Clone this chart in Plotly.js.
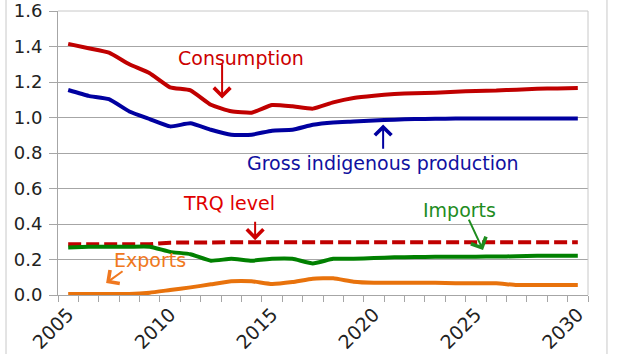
<!DOCTYPE html>
<html>
<head>
<meta charset="utf-8">
<script src="https://cdn.plot.ly/plotly-3.0.1.min.js"></script>
<style>html,body{margin:0;padding:0;background:#fff;}#chart{width:629px;height:354px;}</style>
</head>
<body>
<div id="chart"></div>
<script>
const years = [2005,2006,2007,2008,2009,2010,2011,2012,2013,2014,2015,2016,2017,2018,2019,2020,2021,2022,2023,2024,2025,2026,2027,2028,2029,2030];
const consumption = [1.415,1.39,1.365,1.30,1.25,1.17,1.153,1.072,1.035,1.027,1.07,1.063,1.05,1.085,1.11,1.123,1.132,1.137,1.14,1.145,1.15,1.152,1.157,1.162,1.164,1.166];
const production = [1.155,1.122,1.103,1.034,0.991,0.95,0.967,0.931,0.903,0.903,0.926,0.931,0.959,0.972,0.977,0.983,0.988,0.991,0.993,0.994,0.994,0.995,0.995,0.995,0.995,0.995];
const imports = [0.268,0.272,0.272,0.272,0.272,0.243,0.23,0.193,0.204,0.193,0.204,0.204,0.178,0.204,0.204,0.208,0.212,0.214,0.215,0.216,0.216,0.217,0.218,0.221,0.221,0.221];
const exports = [0.006,0.006,0.006,0.006,0.013,0.028,0.043,0.06,0.077,0.077,0.062,0.073,0.092,0.094,0.075,0.069,0.069,0.069,0.069,0.066,0.066,0.066,0.056,0.056,0.056,0.056];
const trq = [0.286,0.286,0.286,0.286,0.286,0.295,0.297,0.297,0.297,0.297,0.297,0.297,0.297,0.297,0.297,0.297,0.297,0.297,0.297,0.297,0.297,0.297,0.297,0.297,0.297,0.297];
const xTickVals = [2005,2010,2015,2020,2025,2030];
const xTickText = ['2005','2010','2015','2020','2025','2030'];
const yTickVals = [0,0.2,0.4,0.6,0.8,1.0,1.2,1.4,1.6];
const yTickText = ['0.0','0.2','0.4','0.6','0.8','1.0','1.2','1.4','1.6'];

const FONT = 'DejaVu Sans, Verdana, sans-serif';
const C_RED = '#C00000', C_BLUE = '#0000A0', C_GREEN = '#008000', C_ORANGE = '#E8720C';

const traces = [
  {x: years, y: trq, mode: 'lines', line: {color: C_RED, width: 4, dash: '13px,5px'}, name: 'TRQ level'},
  {x: years, y: exports, mode: 'lines', line: {color: C_ORANGE, width: 4, shape: 'spline', smoothing: 0.4}, name: 'Exports'},
  {x: years, y: imports, mode: 'lines', line: {color: C_GREEN, width: 4, shape: 'spline', smoothing: 0.4}, name: 'Imports'},
  {x: years, y: production, mode: 'lines', line: {color: C_BLUE, width: 4, shape: 'spline', smoothing: 0.4}, name: 'Gross indigenous production'},
  {x: years, y: consumption, mode: 'lines', line: {color: C_RED, width: 4, shape: 'spline', smoothing: 0.4}, name: 'Consumption'}
];

function txt(text, x, y, color) {
  return {text: text, x: x, y: y, xref: 'x', yref: 'y', showarrow: false,
    font: {family: FONT, size: 19, color: color}, xanchor: 'center', yanchor: 'middle'};
}
function arr(x, y, ax, ay, color) {
  return {text: '', x: x, y: y, ax: ax, ay: ay, xref: 'x', yref: 'y', axref: 'x', ayref: 'y',
    showarrow: true, arrowhead: 4, arrowsize: 1.6, arrowwidth: 2, arrowcolor: color, standoff: 0, startstandoff: 0};
}

const layout = {
  width: 629, height: 354,
  margin: {l: 58, r: 41, t: 11, b: 59},
  paper_bgcolor: '#fff', plot_bgcolor: '#fff',
  showlegend: false,
  font: {family: FONT, color: '#222'},
  xaxis: {
    type: 'linear', range: [2004.5, 2030.5], fixedrange: true,
    tickmode: 'array', tickvals: xTickVals, ticktext: xTickText, tickangle: -45,
    ticks: '', showgrid: false, zeroline: false,
    showline: true, linecolor: '#a6a6a6', linewidth: 1,
    tickfont: {family: FONT, size: 19, color: '#222'},
    minor: {tickmode: 'linear', tick0: 2004.5, dtick: 1, ticks: 'outside', ticklen: 6, tickcolor: '#a6a6a6', showgrid: false}
  },
  yaxis: {
    range: [0, 1.6], fixedrange: true,
    tickmode: 'array', tickvals: yTickVals, ticktext: yTickText,
    ticks: 'outside', ticklen: 8, tickcolor: '#a6a6a6',
    showgrid: true, gridcolor: '#a6a6a6', gridwidth: 1, zeroline: false,
    showline: true, linecolor: '#a6a6a6', linewidth: 1,
    tickfont: {family: FONT, size: 18, color: '#222'},
    ticklabelstandoff: 3
  },
  shapes: [
    {type: 'line', xref: 'paper', yref: 'paper', x0: 0, x1: 1, y0: 1, y1: 1, line: {color: '#c8c8c8', width: 1}},
    {type: 'line', xref: 'paper', yref: 'paper', x0: 1, x1: 1, y0: 0, y1: 1, line: {color: '#c8c8c8', width: 1}},
    {type: 'line', xref: 'paper', yref: 'paper', x0: -0.0981, x1: -0.0981, y0: -0.25, y1: 1.1, line: {color: '#c8c8c8', width: 1}},
    {type: 'line', xref: 'paper', yref: 'paper', x0: 1.0358, x1: 1.0358, y0: -0.25, y1: 1.1, line: {color: '#c8c8c8', width: 1}}
  ],
  annotations: [
    txt('Consumption', 2013.48, 1.337, '#CC0000'),
    arr(2012.55, 1.107, 2012.55, 1.309, '#CC0000'),
    txt('Gross indigenous production', 2020.45, 0.742, '#1010A0'),
    arr(2020.45, 0.961, 2020.45, 0.815, '#0000A0'),
    txt('TRQ level', 2012.89, 0.517, '#E00000'),
    arr(2014.17, 0.309, 2014.17, 0.421, '#CC0000'),
    txt('Imports', 2024.22, 0.478, '#1E8C1E'),
    arr(2025.35, 0.253, 2024.62, 0.433, '#1E8C1E'),
    txt('Exports', 2009.0, 0.197, '#F07820'),
    arr(2006.86, 0.067, 2007.74, 0.140, '#F07820')
  ]
};

Plotly.newPlot('chart', traces, layout, {displayModeBar: false, staticPlot: true});
</script>
</body>
</html>
